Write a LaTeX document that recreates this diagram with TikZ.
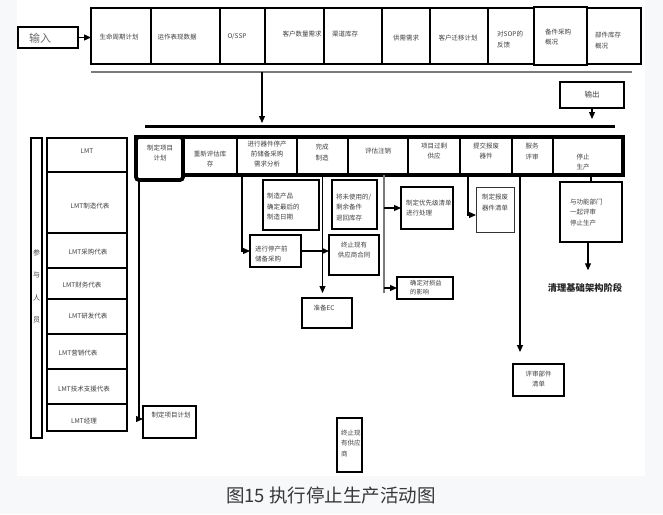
\documentclass[tikz,border=0pt]{standalone}
\usepackage{fontspec}
\setmainfont{Noto Sans CJK SC}
\usetikzlibrary{arrows.meta}
\definecolor{tx}{HTML}{404040}
\definecolor{bgc}{HTML}{F7F8FA}
\definecolor{gl}{HTML}{7A7A7A}
\tikzset{
  bx/.style={draw=black,line width=1.5pt,inner sep=0pt,outer sep=0pt},
  topcell/.style={bx,line width=1.8pt},
  rowcell/.style={bx,line width=1.8pt},
  txt/.style={font=\fontsize{6.5pt}{10.5pt}\selectfont,text=tx,inner sep=0pt,align=center},
  ltxt/.style={txt,align=left,anchor=west},
  conn/.style={draw=black,line width=1.2pt,-{Triangle[length=7pt,width=6pt]}},
  plain/.style={draw=black,line width=1.2pt},
}
\newcommand\mybox[7][]{\node[#1,minimum width={(#5-#3)*1pt},minimum height={(#6-#4)*1pt}] (#2) at ({(#3+#5)/2},{(#4+#6)/2}) {#7};}
\begin{document}
\begin{tikzpicture}[x=1pt,y=-1pt]
\useasboundingbox (0,0) rectangle (663,514);
\fill[bgc] (0,0) rectangle (663,514);
\fill[white] (17,0) rectangle (645,476);

% input
\mybox[bx]{in}{18}{27}{78}{48}{}
\node[txt,font=\fontsize{11pt}{12pt}\selectfont,text=gray!85!black] (intx) at (40,38) {输入};

% top row
\mybox[topcell]{t1}{91}{8}{151}{64}{}
\mybox[topcell]{t2}{151}{8}{220}{64}{}
\mybox[topcell]{t3}{220}{8}{265}{64}{}
\mybox[topcell]{t4}{265}{8}{324}{64}{}
\mybox[topcell]{t5}{324}{8}{382}{64}{}
\mybox[topcell]{t6}{382}{8}{430}{64}{}
\mybox[topcell]{t7}{430}{8}{488}{64}{}
\mybox[topcell]{t8}{488}{8}{534}{64}{}
\mybox[topcell]{t10}{587}{8}{641}{64}{}
\mybox[topcell,line width=2.3pt]{t9}{534}{7}{587}{65}{}
\node[txt] (t1x) at (119,37) {生命周期计划};
\node[txt] (t2x) at (177,37) {运作表现数据};
\node[txt] (t3x) at (237,37) {O/SSP};
\node[txt] (t4x) at (302,34) {客户数量需求};
\node[txt] (t5x) at (345,34) {渠道库存};
\node[txt] (t6x) at (406,38) {供需需求};
\node[txt] (t7x) at (458,38) {客户迁移计划};
\node[ltxt] (t8x) at (497,39.5) {对SOP的\\反馈};
\node[ltxt] (t9x) at (545,37) {备件采购\\概况};
\node[ltxt] (t10x) at (595,40.5) {部件库存\\概况};
\draw[conn] (in.east) -- (in.east -| t1.west);

% gray line and arrow down
\coordinate (ga) at (91,72);
\coordinate (gb) at (632,72);
\draw[gl,line width=2pt] (ga) -- (gb);
\coordinate (gd) at (262,72);
\coordinate (ge) at (262,123);
\draw[conn] (gd) -- (ge);
\coordinate (ba) at (145,126);
\coordinate (bb) at (615,126);
\draw[black,line width=3pt] (ba) -- (bb);

% output
\mybox[bx]{out}{560}{82}{624}{108}{}
\node[txt,font=\fontsize{7.5pt}{9pt}\selectfont] (outx) at (592,95) {输出};
\coordinate (oe) at (592,119);
\draw[conn] (out.south) -- (oe);

% process row
\mybox[rowcell]{r2}{183}{137}{237}{175}{}
\mybox[rowcell]{r3}{237}{137}{297}{175}{}
\mybox[rowcell]{r4}{297}{137}{348}{175}{}
\mybox[rowcell]{r5}{348}{137}{408}{175}{}
\mybox[rowcell]{r6}{408}{137}{460}{175}{}
\mybox[rowcell]{r7}{460}{137}{512}{175}{}
\mybox[rowcell]{r8}{512}{137}{553}{175}{}
\mybox[rowcell]{r9}{553}{137}{623}{175}{}
\node[draw=black,line width=3.5pt,inner sep=0pt,minimum width=487pt,minimum height=38pt] (row) at (379.5,156) {};
\mybox[bx,line width=3.8pt,rounded corners=3pt,fill=white]{r1}{136}{137}{183}{180}{}
\node[txt] (r1x) at (160,153) {制定项目\\计划};
\node[txt] (r2x) at (210,159) {重新评估库\\存};
\node[txt,font=\fontsize{6.5pt}{10pt}\selectfont] (r3x) at (267,154) {进行器件停产\\前储备采购\\需求分析};
\node[txt] (r4x) at (322,152.5) {完成\\制造};
\node[txt] (r5x) at (378,151) {评估注销};
\node[txt] (r6x) at (434,151) {项目过剩\\供应};
\node[txt] (r7x) at (486,151) {提交报废\\器件};
\node[txt] (r8x) at (532,151.5) {服务\\评审};
\node[txt] (r9x) at (583,162) {停止\\生产};

% left column
\mybox[bx]{part}{31}{138}{42}{438}{}
\node[txt,font=\fontsize{7pt}{22.4pt}\selectfont] (partx) at (36.5,286.5) {参\\与\\人\\员};
\mybox[bx]{L1}{47}{138}{127}{172}{}
\mybox[bx]{L2}{47}{172}{127}{233}{}
\mybox[bx]{L3}{47}{233}{127}{268}{}
\mybox[bx]{L4}{47}{268}{127}{299}{}
\mybox[bx]{L5}{47}{299}{127}{334}{}
\mybox[bx]{L6}{47}{334}{127}{369}{}
\mybox[bx]{L7}{47}{369}{127}{404}{}
\mybox[bx]{L8}{47}{404}{127}{431}{}
\node[txt] (L1x) at (87,151) {LMT};
\node[txt] (L2x) at (90,206) {LMT制造代表};
\node[txt] (L3x) at (88,252) {LMT采购代表};
\node[txt] (L4x) at (82,285) {LMT财务代表};
\node[txt] (L5x) at (88,316) {LMT研发代表};
\node[txt] (L6x) at (78,353) {LMT营销代表};
\node[txt] (L7x) at (84,389) {LMT技术支援代表};
\node[txt] (L8x) at (84,421) {LMT经理};

% bottom-left box
\mybox[bx]{b1}{143}{406}{196}{438}{}
\node[txt] (b1x) at (171,415) {制定项目计划};
\draw[conn] ([xshift=3pt]r1.south west) |- ([yshift=3pt]b1.west);

% boxes under r3/r4
\mybox[bx]{c1}{263}{180}{319}{230}{}
\node[ltxt] (c1x) at (267,207) {制造产品\\确定最后的\\制造日期};
\mybox[bx]{c2}{250}{235}{301}{267}{}
\node[ltxt] (c2x) at (255,254) {进行停产前\\储备采购};
\mybox[bx]{c3}{329}{235}{379}{275}{}
\node[txt] (c3x) at (354,250) {终止现有\\供应商合同};
\mybox[bx]{c4}{332}{180}{377}{229}{}
\node[ltxt] (c4x) at (336,207.5) {将未使用的/\\剩余备件\\退回库存};
\mybox[bx]{ec}{302}{298}{352}{328}{}
\node[txt] (ecx) at (324,308) {准备EC};
\draw[conn] ([xshift=5pt]r3.south west) |- (c2.west);
\draw[conn] (c2.east) -- (c2.east -| c3.west);
\draw[conn,shorten >=5pt] (r4.south) -- (r4.south |- ec.north);

% evaluation branch
\coordinate (gs) at (384,175);
\coordinate (gt) at (384,293);
\draw[gl,line width=2pt] (gs) -- (gt);
\mybox[bx]{d1}{401}{187}{453}{229}{}
\node[ltxt] (d1x) at (406,208) {制定优先级清单\\进行处理};
\mybox[bx]{d2}{397}{277}{453}{299}{}
\node[ltxt,font=\fontsize{6.3pt}{9pt}\selectfont] (d2x) at (410,288) {确定对损益\\的影响};
\draw[conn] (gs |- d1.west) -- (d1.west);
\draw[conn] (gs |- d2.west) -- (d2.west);

% scrap branch
\mybox[bx,line width=1pt,draw=black!80]{e1}{476}{187}{514}{232}{}
\node[txt] (e1x) at (495,202.5) {制定报废\\器件清单};
\draw[conn] ([xshift=-18pt]r7.south) |- ([yshift=-5.5pt]e1.west);

% service review branch
\mybox[bx]{f1}{513}{364}{564}{396}{}
\node[txt] (f1x) at (538.5,379) {评审部件\\清单};
\draw[conn,shorten >=12pt] ([xshift=-12.5pt]r8.south) -- ([xshift=-18.5pt]f1.north);

% stop production branch
\mybox[bx]{s1}{560}{182}{622}{242}{}
\node[ltxt] (s1x) at (570,212.5) {与功能部门\\一起评审\\停止生产};
\draw[plain] (s1.north) -- (s1.north |- r9.south);
\node[font=\fontsize{9.3pt}{11pt}\selectfont\bfseries,text=black!85,inner sep=0pt] (qt) at (585,288) {清理基础架构阶段};
\draw[conn,shorten >=13pt] ([xshift=-3pt]s1.south) -- ([xshift=-3pt]s1.south |- qt.north);

% narrow box
\mybox[bx]{k1}{337}{418}{362}{472}{}
\node[ltxt] (k1x) at (341,443.5) {终止现\\有供应\\商};

% caption
\node[font=\fontsize{18.5pt}{20pt}\selectfont,text=black!78,inner sep=0pt] (cap) at (331,495) {图15 执行停止生产活动图};
\end{tikzpicture}
\end{document}
